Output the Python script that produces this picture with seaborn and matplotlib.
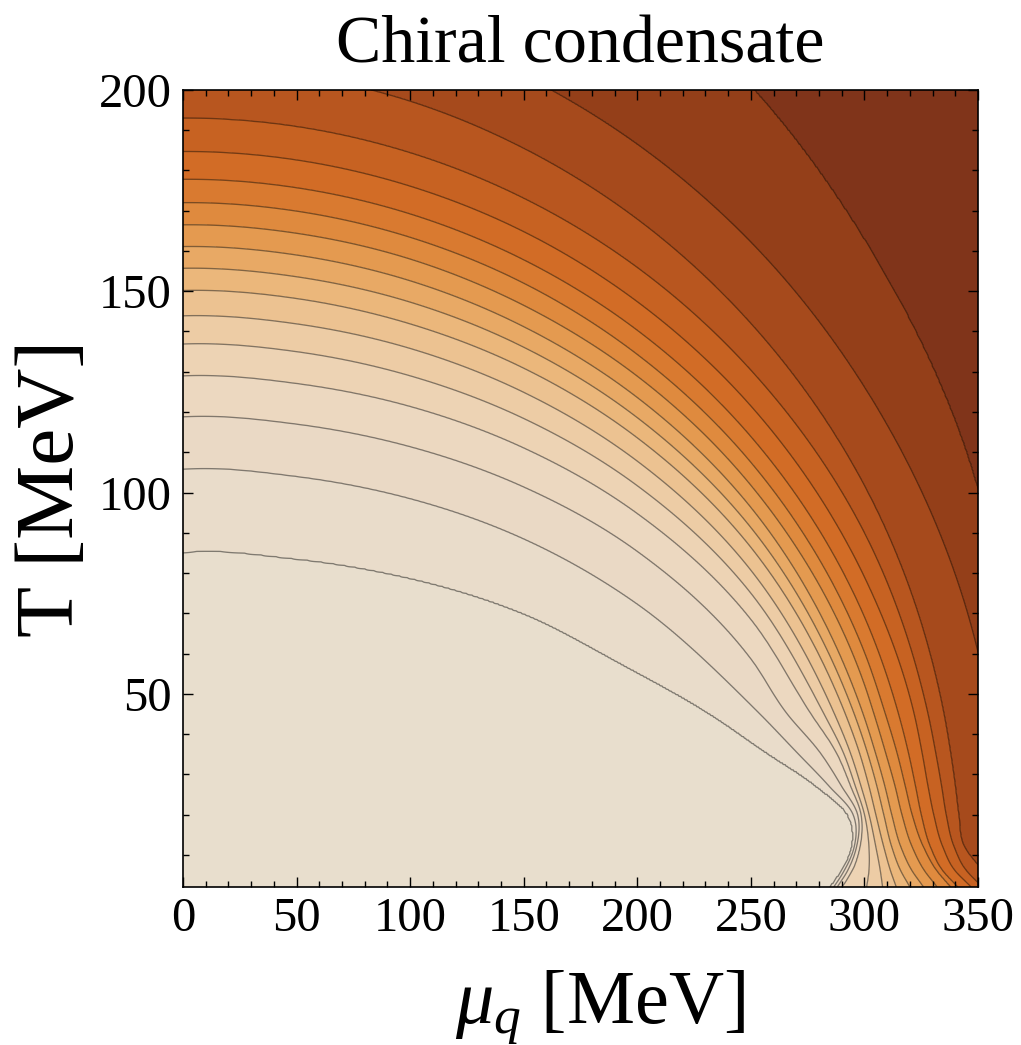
import numpy as np
import matplotlib
matplotlib.use("Agg")
import matplotlib.pyplot as plt
from matplotlib.ticker import MultipleLocator
import seaborn as sns

nan = np.nan

# Chiral condensate (normalised to its vacuum value) on each contour line
contour_levels = [0.95, 0.90, 0.85, 0.80, 0.75, 0.70, 0.65, 0.60, 0.55,
                  0.50, 0.45, 0.40, 0.35, 0.30, 0.25, 0.20, 0.15]

# Temperature [MeV] of every contour line at fixed quark chemical potentials
mu_cut = [0, 50, 100, 150, 200, 250, 300, 350]
T_on_contour = [
    [85.1, 83.5, 78.7, 69.9, 55.3, nan, nan, nan],
    [105.8, 104.0, 98.5, 88.5, 72.3, nan, nan, nan],
    [118.8, 117.0, 111.4, 101.4, 85.4, 58.7, nan, nan],
    [129.0, 127.1, 121.4, 111.1, 94.8, 68.5, nan, nan],
    [136.9, 135.0, 129.0, 118.4, 101.7, 75.0, nan, nan],
    [143.9, 141.9, 135.8, 124.9, 107.8, 80.7, nan, nan],
    [150.2, 148.2, 141.9, 130.9, 113.6, 86.4, nan, nan],
    [155.7, 153.6, 147.3, 136.1, 118.6, 91.3, nan, nan],
    [161.1, 159.0, 152.6, 141.2, 123.6, 96.3, nan, nan],
    [166.5, 164.4, 158.0, 146.5, 128.9, 101.8, 52.3, nan],
    [172.0, 169.9, 163.4, 152.0, 134.3, 107.5, 60.3, nan],
    [177.8, 175.7, 169.2, 157.8, 140.3, 113.9, 69.1, nan],
    [184.7, 182.6, 176.1, 164.8, 147.4, 121.5, 79.0, nan],
    [193.0, 190.9, 184.4, 173.1, 155.9, 130.4, 90.0, nan],
    [206.0, 203.8, 197.2, 185.5, 167.9, 142.0, 101.7, nan],
    [223.4, 221.3, 214.8, 203.5, 186.5, 162.2, 126.2, 60.3],
    [268.1, 265.7, 258.5, 246.0, 227.4, 200.9, 162.8, 100.6],
]

# Quark chemical potential [MeV] of every contour line at fixed low temperatures
T_cut = [45, 35, 27, 20, 12, 6, 2]
mu_on_contour = [
    [232.0, 258.0, 279.0, 292.5, 294.5, 290.0, 285.0],
    [254.0, 271.0, 284.5, 295.0, 295.5, 291.0, 286.5],
    [266.0, 281.0, 290.0, 297.0, 296.5, 292.5, 288.0],
    [276.5, 288.0, 294.0, 298.5, 298.0, 294.5, 290.0],
    [282.2, 291.0, 296.0, 300.0, 302.0, 302.0, 301.0],
    [286.8, 294.0, 298.5, 302.0, 305.0, 307.0, 308.0],
    [291.6, 298.0, 302.0, 305.0, 308.5, 311.5, 314.0],
    [295.5, 301.5, 305.5, 308.5, 312.0, 316.0, 320.0],
    [299.4, 305.0, 309.0, 312.0, 316.0, 321.0, 326.0],
    [304.2, 309.5, 313.5, 316.5, 321.0, 326.5, 332.0],
    [309.2, 314.5, 318.0, 321.0, 326.0, 332.0, 338.0],
    [315.0, 319.5, 322.5, 325.0, 329.0, 334.5, 341.0],
    [321.9, 325.5, 328.0, 330.5, 334.5, 340.0, 347.0],
    [328.0, 331.5, 334.0, 336.0, 339.5, 345.0, 352.0],
    [335.0, 338.0, 340.0, 341.5, 344.0, 352.0, nan],
    [nan, nan, nan, nan, nan, nan, nan],
    [nan, nan, nan, nan, nan, nan, nan],
]

x_ticks = [0, 50, 100, 150, 200, 250, 300, 350]
y_ticks = [50, 100, 150, 200]

MU_MAX, T_MIN, T_MAX = 350.0, 2.0, 200.0


def radial_profile(theta, th_a, r_a):
    """Piecewise cubic Hermite interpolation of r(theta), clamped at both ends."""
    h = np.diff(th_a)
    d = np.diff(r_a) / h
    m = np.empty_like(r_a)
    m[0], m[-1] = d[0], d[-1]
    if len(r_a) > 2:
        m[1:-1] = (d[:-1] * h[1:] + d[1:] * h[:-1]) / (h[:-1] + h[1:])
    idx = np.clip(np.searchsorted(th_a, theta) - 1, 0, len(th_a) - 2)
    t = np.clip((theta - th_a[idx]) / h[idx], 0.0, 1.0)
    t2, t3 = t * t, t * t * t
    return ((2 * t3 - 3 * t2 + 1) * r_a[idx] + (t3 - 2 * t2 + t) * h[idx] * m[idx]
            + (-2 * t3 + 3 * t2) * r_a[idx + 1] + (t3 - t2) * h[idx] * m[idx + 1])


# Sampling grid of the (mu, T) plane
mu_axis = np.linspace(0, MU_MAX, 801)
T_axis = np.linspace(T_MIN, T_MAX, 457)
MU, TT = np.meshgrid(mu_axis, T_axis)
U, V = MU / MU_MAX, TT / T_MAX
theta = np.arctan2(V, U)
rad = np.hypot(U, V)

# Radius of every contour line along each ray from the origin
radii = []
for k in range(len(contour_levels)):
    pts_mu = list(mu_cut) + list(mu_on_contour[k])
    pts_T = list(T_on_contour[k]) + list(T_cut)
    pts = np.array([(m, t) for m, t in zip(pts_mu, pts_T)
                    if np.isfinite(m) and np.isfinite(t)])
    th_a = np.arctan2(pts[:, 1] / T_MAX, pts[:, 0] / MU_MAX)
    r_a = np.hypot(pts[:, 1] / T_MAX, pts[:, 0] / MU_MAX)
    order = np.argsort(th_a)
    radii.append(radial_profile(theta, th_a[order], r_a[order]))
radii = np.array(radii)
for k in range(1, len(radii)):
    radii[k] = np.maximum(radii[k], radii[k - 1] + 1e-4)

# Condensate field: linear in radius between neighbouring contour lines
r_stack = np.concatenate([np.zeros((1,) + rad.shape), radii,
                          np.full((1,) + rad.shape, 5.0)])
values = [1.0] + contour_levels + [0.10]
field = np.full(rad.shape, 0.10)
for k in range(len(values) - 1):
    lo, hi = r_stack[k], r_stack[k + 1]
    mask = (rad >= lo) & (rad < hi)
    frac = (rad - lo) / (hi - lo)
    field[mask] = (values[k] + frac * (values[k + 1] - values[k]))[mask]

band_edges = np.round(np.arange(0.10, 1.0001, 0.05), 2)
band_colors = sns.color_palette([
    "#80341a", "#943f19", "#a64a1c", "#b8561f", "#c76222", "#d26c26",
    "#d97a30", "#df8a3e", "#e49a50", "#e8a965", "#ebb77b", "#ecc291",
    "#edcca5", "#edd3b4", "#ecd8c0", "#ead9c5", "#e9dcca", "#e8decd",
])

sns.set_style("ticks")
plt.rcParams["font.family"] = ["Liberation Serif", "DejaVu Serif"]
plt.rcParams["mathtext.fontset"] = "custom"
plt.rcParams["mathtext.rm"] = "Liberation Serif"
plt.rcParams["mathtext.it"] = "Liberation Serif:italic"
plt.rcParams["text.color"] = "black"
plt.rcParams["axes.labelcolor"] = "black"
plt.rcParams["xtick.color"] = "black"
plt.rcParams["ytick.color"] = "black"

fig = plt.figure(figsize=(10.21, 10.45), dpi=100)
ax = fig.add_axes([0.1792, 0.1512, 0.7787, 0.7627])
ax.set_axisbelow(False)

ax.contourf(mu_axis, T_axis, field, levels=band_edges, colors=band_colors)
ax.contour(mu_axis, T_axis, field, levels=sorted(contour_levels),
           colors="black", linewidths=0.95, alpha=0.45)

ax.set_xlim(0, MU_MAX)
ax.set_ylim(T_MIN, T_MAX)
ax.set_xticks(x_ticks)
ax.set_yticks(y_ticks)
ax.xaxis.set_minor_locator(MultipleLocator(10))
ax.yaxis.set_minor_locator(MultipleLocator(10))
ax.tick_params(which="both", direction="in", top=True, right=True,
               bottom=True, left=True, color="black", width=1.0)
ax.tick_params(which="major", length=7, labelsize=35)
ax.tick_params(which="minor", length=4)
ax.tick_params(axis="x", which="major", pad=7)
ax.tick_params(axis="y", which="major", pad=8)
for s in ax.spines.values():
    s.set_linewidth(1.2)
    s.set_color("black")

ax.set_title("Chiral condensate", fontsize=49, pad=20)
ax.set_xlabel(r"$\mu_q$ [MeV]", fontsize=55, labelpad=20, x=0.5245)
ax.set_ylabel("T [MeV]", fontsize=60, labelpad=6)

fig.savefig("out.png", dpi=100)
